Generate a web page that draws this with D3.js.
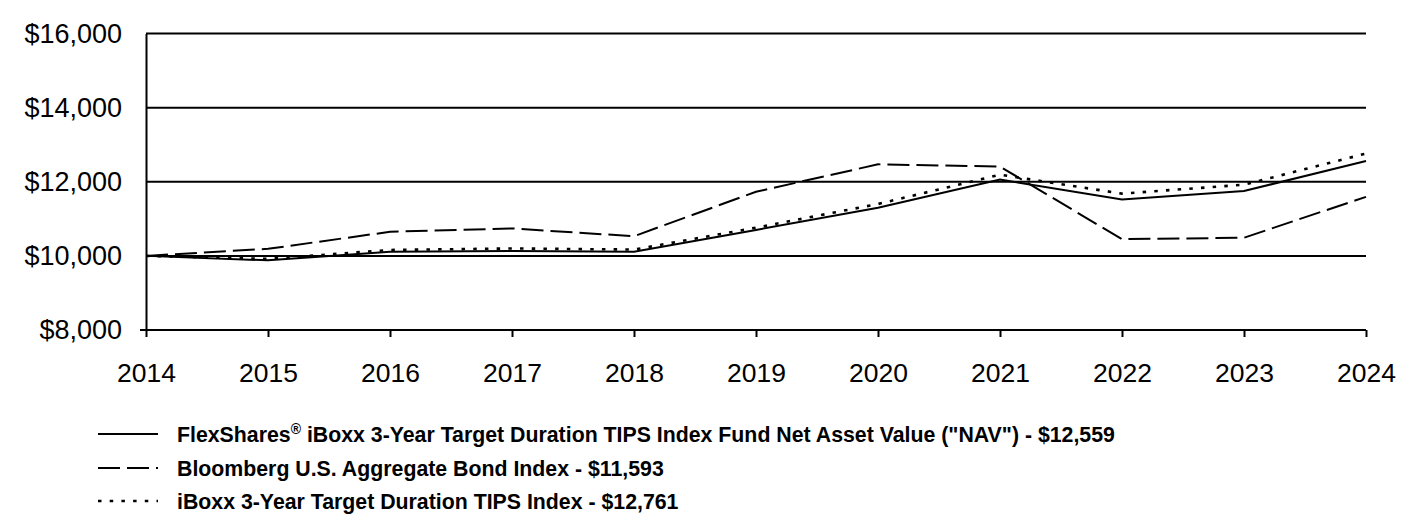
<!DOCTYPE html>
<html>
<head>
<meta charset="utf-8">
<script src="https://cdn.jsdelivr.net/npm/d3@7/dist/d3.min.js"></script>
<style>
  html, body { margin: 0; padding: 0; background: #fff; }
  svg { display: block; font-family: "Liberation Sans", Arial, sans-serif; }
</style>
</head>
<body>
<svg id="chart" width="1416" height="516"></svg>
<script>
const years = [2014, 2015, 2016, 2017, 2018, 2019, 2020, 2021, 2022, 2023, 2024];
const navValues = [10000, 9880, 10110, 10130, 10110, 10700, 11300, 12060, 11520, 11750, 12559];
const aggValues = [10000, 10190, 10650, 10740, 10530, 11730, 12470, 12410, 10450, 10490, 11593];
const tipsValues = [10000, 9920, 10160, 10200, 10170, 10760, 11400, 12190, 11680, 11920, 12761];
const yTicks = [8000, 10000, 12000, 14000, 16000];
const seriesNames = [
  "FlexShares\u00AE iBoxx 3-Year Target Duration TIPS Index Fund Net Asset Value (\"NAV\") - $12,559",
  "Bloomberg U.S. Aggregate Bond Index - $11,593",
  "iBoxx 3-Year Target Duration TIPS Index - $12,761"
];

const svg = d3.select("#chart");
const x = d3.scaleLinear().domain([2014, 2024]).range([146, 1366]);
const y = d3.scaleLinear().domain([8000, 16000]).range([330, 33.5]);

// gridlines
svg.append("g").selectAll("line").data(yTicks).join("line")
  .attr("x1", x(2014)).attr("x2", x(2024))
  .attr("y1", d => y(d)).attr("y2", d => y(d))
  .attr("stroke", "#000").attr("stroke-width", 2);

// y axis
const yAxis = svg.append("g").attr("transform", `translate(${x(2014)},0)`)
  .call(d3.axisLeft(y).tickValues(yTicks).tickSize(0).tickPadding(24)
    .tickFormat(d => "$" + d3.format(",")(d)));
yAxis.select(".domain").attr("stroke", "#000").attr("stroke-width", 2);
yAxis.selectAll("text").attr("font-size", 27).attr("fill", "#000")
  .attr("font-family", "'Liberation Sans', Arial, sans-serif");
svg.append("line").attr("x1", x(2014) - 6).attr("x2", x(2014))
  .attr("y1", y(8000)).attr("y2", y(8000)).attr("stroke", "#000").attr("stroke-width", 2);

// x axis
const xAxis = svg.append("g").attr("transform", `translate(0,${y(8000)})`)
  .call(d3.axisBottom(x).tickValues(years).tickSize(7).tickPadding(26)
    .tickFormat(d3.format("d")));
xAxis.select(".domain").remove();
xAxis.selectAll("line").attr("stroke", "#000").attr("stroke-width", 2);
xAxis.selectAll("text").attr("font-size", 26.5).attr("fill", "#000")
  .attr("font-family", "'Liberation Sans', Arial, sans-serif");

const line = d3.line().x((d, i) => x(years[i])).y(d => y(d));
const styles = [
  { values: navValues, dash: null, width: 2 },
  { values: aggValues, dash: "22,7", width: 2 },
  { values: tipsValues, dash: "3.5,8.2", width: 2.6 }
];

styles.forEach(s => {
  svg.append("path").datum(s.values)
    .attr("d", line)
    .attr("fill", "none")
    .attr("stroke", "#000")
    .attr("stroke-width", s.width)
    .attr("stroke-dasharray", s.dash);
});

// legend
const legendY = [434, 468, 501];
const lg = svg.append("g");
styles.forEach((s, i) => {
  lg.append("line")
    .attr("x1", 98).attr("x2", 158)
    .attr("y1", legendY[i]).attr("y2", legendY[i])
    .attr("stroke", "#000").attr("stroke-width", s.width)
    .attr("stroke-dasharray", s.dash);
  const t = lg.append("text")
    .attr("x", 177).attr("y", legendY[i] + 8)
    .attr("font-size", 21.3).attr("font-weight", "bold").attr("fill", "#000");
  const name = seriesNames[i];
  if (name.includes("\u00AE")) {
    const parts = name.split("\u00AE");
    t.append("tspan").text(parts[0]);
    t.append("tspan").text("\u00AE").attr("font-size", 14).attr("dy", -8);
    t.append("tspan").text(parts[1]).attr("dy", 8);
  } else {
    t.text(name);
  }
});
</script>
</body>
</html>
